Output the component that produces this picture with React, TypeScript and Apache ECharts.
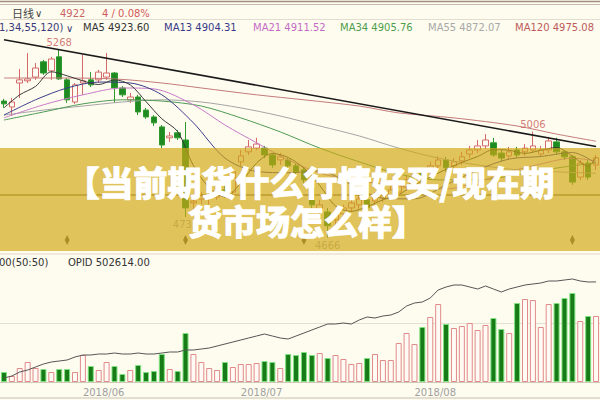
import React, { useEffect, useRef } from "react";
import * as echarts from "echarts";

const dates = [
  "2018-05-18","2018-05-21","2018-05-22","2018-05-23","2018-05-24","2018-05-25","2018-05-28","2018-05-29","2018-05-30","2018-05-31",
  "2018-06-01","2018-06-04","2018-06-05","2018-06-06","2018-06-07","2018-06-08","2018-06-11","2018-06-12","2018-06-13","2018-06-14",
  "2018-06-15","2018-06-19","2018-06-20","2018-06-21","2018-06-22","2018-06-25","2018-06-26","2018-06-27","2018-06-28","2018-06-29",
  "2018-07-02","2018-07-03","2018-07-04","2018-07-05","2018-07-06","2018-07-09","2018-07-10","2018-07-11","2018-07-12","2018-07-13",
  "2018-07-16","2018-07-17","2018-07-18","2018-07-19","2018-07-20","2018-07-23","2018-07-24","2018-07-25","2018-07-26","2018-07-27",
  "2018-07-30","2018-07-31","2018-08-01","2018-08-02","2018-08-03","2018-08-06","2018-08-07","2018-08-08","2018-08-09","2018-08-10",
  "2018-08-13","2018-08-14","2018-08-15","2018-08-16","2018-08-17","2018-08-20","2018-08-21","2018-08-22","2018-08-23","2018-08-24",
  "2018-08-27","2018-08-28","2018-08-29","2018-08-30","2018-08-31","2018-09-03",
];

const opens = [
  5104,5085,5162,5169,5181,5230,5201,5246,5172,5101,
  5162,5172,5172,5181,5194,5146,5108,5117,5075,5053,
  5021,4986,5002,4979,4777,4790,4793,4796,4819,4812,
  4909,4941,4953,4953,4931,4915,4915,4896,4883,4825,
  4755,4748,4723,4742,4761,4771,4787,4783,4793,4803,
  4812,4828,4848,4877,4877,4896,4915,4896,4912,4934,
  4947,4960,4970,4937,4928,4947,4941,4947,4934,4947,
  4973,4941,4925,4860,4905,4899,
];
const closes = [
  5095,5101,5172,5175,5210,5194,5239,5175,5108,5156,
  5169,5156,5197,5194,5146,5124,5117,5069,5053,5034,
  4963,4992,4986,4761,4783,4799,4799,4803,4799,4877,
  4928,4957,4966,4931,4899,4925,4896,4877,4851,4771,
  4771,4704,4739,4761,4777,4790,4761,4799,4809,4819,
  4832,4851,4867,4857,4896,4915,4890,4909,4925,4947,
  4960,4979,4931,4921,4941,4931,4953,4960,4947,4976,
  4941,4925,4844,4905,4860,4922,
];
const lows = [
  5082,5056,5114,5162,5172,5188,5172,5172,5098,5095,
  5124,5149,5162,5172,5098,5117,5098,5059,5047,5024,
  4953,4973,4979,4732,4748,4774,4771,4787,4793,4803,
  4896,4931,4947,4921,4890,4899,4883,4867,4841,4761,
  4739,4666,4707,4729,4748,4755,4748,4771,4780,4793,
  4799,4819,4838,4844,4867,4883,4877,4883,4899,4921,
  4937,4950,4925,4909,4915,4921,4928,4937,4925,4937,
  4931,4915,4835,4851,4851,4883,
];
const highs = [
  5111,5114,5207,5258,5226,5236,5246,5268,5178,5162,
  5252,5197,5204,5258,5197,5152,5130,5124,5082,5059,
  5027,5005,5011,5037,4796,4812,4812,4819,4835,4890,
  4947,4979,4986,4960,4937,4937,4921,4905,4893,4835,
  4787,4761,4755,4771,4793,4803,4796,4812,4819,4832,
  4844,4867,4883,4887,4909,4928,4925,4921,4941,4960,
  4979,4998,4986,4947,4957,4957,4966,5006,4960,4989,
  4986,4947,4931,4915,4915,4931,
];

const volumes = [
  30,18,42,60,42,39,30,39,39,30,
  81,48,36,60,48,24,36,51,30,33,
  84,39,33,147,84,60,42,36,60,45,
  54,54,57,63,60,42,84,81,90,81,
  87,72,81,69,54,57,72,84,66,66,
  117,147,114,165,195,234,174,162,168,177,
  156,171,192,159,147,237,249,246,165,234,
  237,252,267,183,198,198,
];

const openInterest = [
  384900,387350,392250,394700,398375,402050,404500,405725,406950,410625,
  413075,413075,414300,414300,415525,414300,414300,415525,414300,414300,
  415525,416750,416750,419200,419200,420425,421650,424100,426550,429000,
  431450,433900,436350,438800,436350,433900,432675,436350,440025,443700,
  447375,451050,451050,452275,451050,455950,459625,458400,460850,462075,
  465750,473100,476775,478000,482900,492700,496375,498825,498825,496375,
  493925,497600,493925,490250,493925,496375,498825,500050,501275,503725,
  503725,504950,506175,503725,502500,502614,
];

const ma5 = [[0,5082],[2,5124],[4,5151],[6,5198],[8,5185],[10,5169],[12,5157],[14,5172],[16,5156],[18,5102],[20,5047],[22,5006],[24,4897],[26,4826],[28,4797],[30,4841],[32,4905],[34,4936],[36,4923],[38,4889],[40,4833],[42,4767],[44,4750],[46,4765],[48,4787],[50,4804],[52,4835],[54,4860],[56,4885],[58,4907],[60,4926],[62,4948],[64,4946],[66,4936],[68,4946],[70,4955],[72,4927],[74,4895],[75,4923.6]];
const ma13 = [[0,5059],[4,5108],[8,5146],[12,5165],[16,5162],[20,5124],[24,5034],[28,4921],[32,4878],[36,4874],[40,4880],[44,4836],[48,4792],[52,4790],[56,4835],[60,4883],[64,4918],[68,4926],[72,4939],[75,4904.31]];
const ma21 = [[0,5050],[5,5092],[10,5124],[15,5146],[19,5143],[24,5092],[28,5027],[32,4970],[36,4915],[40,4873],[44,4851],[48,4838],[52,4825],[56,4822],[60,4844],[64,4877],[68,4902],[72,4921],[75,4911.52]];
const ma34 = [[0,5043],[5,5069],[10,5095],[15,5108],[20,5104],[25,5088],[30,5050],[35,5005],[40,4953],[45,4909],[50,4870],[55,4851],[60,4851],[65,4867],[70,4889],[75,4905.76]];
const ma55 = [[0,5059],[5,5075],[10,5088],[15,5101],[20,5108],[25,5101],[30,5082],[35,5056],[40,5024],[45,4992],[50,4953],[55,4921],[60,4899],[65,4883],[70,4877],[75,4872.07]];
const ma120 = [[0,5178],[7,5178],[14,5175],[20,5162],[25,5146],[32,5124],[38,5108],[45,5088],[50,5066],[57,5050],[65,5024],[70,4998],[75,4975.08]];

const trendLine = [[0, 5301], [75, 4958]];

const extremeIdx = [7, 67, 23, 41];
const extremeVal = [5268, 5006, 4732, 4666];
const extremeIsHigh = [true, true, false, false];

const diamondIdx = [8, 23, 38, 72];
const diamondLevel = 4658;

const monthLabelIdx = [10, 30, 52];

const maLegend = [
  { text: "MA5 4923.60", x: 83, color: "#333333" },
  { text: "MA13 4904.31", x: 164, color: "#3a3a8a" },
  { text: "MA21 4911.52", x: 253, color: "#c46cc4" },
  { text: "MA34 4905.76", x: 340, color: "#4e9e4e" },
  { text: "MA55 4872.07", x: 428, color: "#a8a8a8" },
  { text: "MA120 4975.08", x: 515, color: "#c05a5a" },
];

const NUM_FONT = '"DejaVu Sans", "Noto Sans CJK SC", sans-serif';

export default function App() {
  const ref = useRef<HTMLDivElement>(null);

  useEffect(() => {
    if (!ref.current) return;
    const chart = echarts.init(ref.current, null, { renderer: "svg" });

    const candleData = dates.map((_, i) => [opens[i], closes[i], lows[i], highs[i]]);
    const upVol = { color: "#fffaf4", borderColor: "#e08a8a", borderWidth: 1 };
    const downVol = { color: "#177b17", borderColor: "#7ee07e", borderWidth: 1 };
    const volData = volumes.map((v, i) => ({
      value: v,
      itemStyle: closes[i] >= opens[i] ? upVol : downVol,
    }));

    const extremeData = extremeIdx.map((idx, k) => ({
      value: [idx, extremeVal[k]],
      label: {
        position: extremeIsHigh[k] ? "top" : "bottom",
        distance: extremeIsHigh[k] ? 2 : 3,
        color: extremeIsHigh[k] ? "#c85a5a" : "#9a9a9a",
      },
    }));

    const maLine = (data: number[][], color: string) => ({
      type: "line",
      xAxisIndex: 0,
      yAxisIndex: 0,
      data,
      smooth: 0.3,
      showSymbol: false,
      symbol: "none",
      connectNulls: true,
      silent: true,
      lineStyle: { color, width: 1 },
      z: 3,
    });

    const txt = (
      text: string,
      x: number,
      y: number,
      fill: string,
      font: string,
      z = 10,
      align = "left",
      extra: any = {}
    ) => ({
      type: "text",
      x,
      y,
      z,
      silent: true,
      style: {
        text,
        fill,
        font,
        textAlign: align,
        align,
        textVerticalAlign: "middle",
        verticalAlign: "middle",
        ...extra,
      },
    });

    const hline = (y: number, stroke: string, lineWidth = 1, z = 10) => ({
      type: "line",
      z,
      silent: true,
      shape: { x1: 0, y1: y, x2: 600, y2: y },
      style: { stroke, lineWidth },
    });

    const smallFont = `10px ${NUM_FONT}`;
    const bannerFont = 'bold 34px "Noto Sans CJK SC", sans-serif';
    const bannerExtra = { stroke: "#ffffff", lineWidth: 1.4 };

    const option: any = {
      animation: false,
      backgroundColor: "#fefcef",
      grid: [
        { left: -6, right: -2, top: 35, height: 215 },
        { left: -6, right: -2, top: 264, height: 118 },
      ],
      xAxis: [
        {
          type: "category",
          gridIndex: 0,
          data: dates,
          boundaryGap: true,
          show: false,
        },
        {
          type: "category",
          gridIndex: 1,
          data: dates,
          boundaryGap: true,
          axisLine: { show: true, lineStyle: { color: "#cfc8b8" } },
          axisTick: { show: false },
          splitLine: { show: false },
          axisLabel: {
            interval: (index: number) => monthLabelIdx.indexOf(index) >= 0,
            formatter: (v: string) => v.slice(0, 7).replace("-", "/"),
            align: "left",
            color: "#a0a0a0",
            fontSize: 10,
            fontFamily: NUM_FONT,
            margin: 5,
          },
        },
      ],
      yAxis: [
        {
          type: "value",
          gridIndex: 0,
          min: 4626,
          max: 5316,
          show: false,
          splitLine: { show: false },
        },
        {
          type: "value",
          gridIndex: 1,
          min: 0,
          max: 354,
          interval: 177,
          axisLine: { show: false },
          axisTick: { show: false },
          axisLabel: { show: false },
          splitLine: {
            show: true,
            lineStyle: { color: ["rgba(0,0,0,0)", "#e4dfd2", "rgba(0,0,0,0)"], width: 1 },
          },
        },
        {
          type: "value",
          gridIndex: 1,
          min: 380000,
          max: 524550,
          show: false,
          splitLine: { show: false },
        },
      ],
      series: [
        {
          type: "candlestick",
          xAxisIndex: 0,
          yAxisIndex: 0,
          data: candleData,
          barWidth: 6,
          silent: true,
          itemStyle: {
            color: "#fffdf2",
            color0: "#1f8a22",
            borderColor: "#d46a6a",
            borderColor0: "#2c9a2c",
            borderWidth: 1,
          },
          z: 2,
        },
        maLine(ma120, "#c47a7a"),
        maLine(ma55, "#a4a4a4"),
        maLine(ma34, "#4f9a55"),
        maLine(ma21, "#c87ac8"),
        maLine(ma13, "#3c3c8a"),
        maLine(ma5, "#3a3a3a"),
        {
          type: "line",
          xAxisIndex: 0,
          yAxisIndex: 0,
          data: trendLine,
          showSymbol: false,
          symbol: "none",
          silent: true,
          lineStyle: { color: "#1a1a1a", width: 1.6 },
          z: 4,
        },
        {
          type: "scatter",
          xAxisIndex: 0,
          yAxisIndex: 0,
          data: extremeData,
          symbolSize: 0,
          silent: true,
          label: {
            show: true,
            formatter: (p: any) => String(p.value[1]),
            fontSize: 10,
            fontFamily: NUM_FONT,
          },
          z: 5,
        },
        {
          type: "scatter",
          xAxisIndex: 0,
          yAxisIndex: 0,
          data: diamondIdx.map((i) => [i, diamondLevel]),
          symbol: "diamond",
          symbolSize: [5, 10],
          silent: true,
          itemStyle: { color: "#3a3020" },
          z: 5,
        },
        {
          type: "bar",
          xAxisIndex: 1,
          yAxisIndex: 1,
          data: volData,
          barWidth: 6,
          silent: true,
        },
        {
          type: "line",
          xAxisIndex: 1,
          yAxisIndex: 2,
          data: openInterest,
          showSymbol: false,
          symbol: "none",
          silent: true,
          lineStyle: { color: "#555555", width: 1 },
          z: 3,
        },
      ],
      graphic: [
        hline(1.5, "#a08c80", 1.5),
        hline(4.5, "#cbb8ac", 1),
        hline(19.5, "#e2ddd0", 1),
        txt("日线", 12, 13, "#444444", '11px "Noto Sans CJK SC", sans-serif'),
        txt("∨", 35, 13, "#444444", smallFont),
        txt("4922", 60, 13, "#c86464", smallFont),
        txt("4 / 0.08%", 102, 13, "#d05a5a", smallFont),
        txt("1,34,55,120)", -1, 27, "#3a3a7a", smallFont),
        txt("∨", 66, 28, "#3a3a7a", smallFont),
        ...maLegend.map((m) => txt(m.text, m.x, 27, m.color, smallFont)),
        hline(254, "#ddd6c6", 1),
        txt("00(50:50)", -1, 262, "#333333", smallFont),
        txt("OPID 502614.00", 68, 262, "#333333", smallFont),
        hline(398, "#c8c0b0", 1),
        hline(195, "#5a4414", 1, 99),
        {
          type: "rect",
          z: 100,
          silent: true,
          shape: { x: 0, y: 148, width: 600, height: 103 },
          style: { fill: "rgba(210,168,20,0.68)" },
        },
        txt("【当前期货什么行情好买/现在期", 310, 181, "#ffffff", bannerFont, 101, "center", bannerExtra),
        txt("货市场怎么样】", 307, 220, "#ffffff", bannerFont, 101, "center", bannerExtra),
      ],
    };

    chart.setOption(option);
    return () => {
      chart.dispose();
    };
  }, []);

  return (
    <div
      ref={ref}
      style={{ position: "fixed", left: 0, top: 0, width: 600, height: 400 }}
    />
  );
}
